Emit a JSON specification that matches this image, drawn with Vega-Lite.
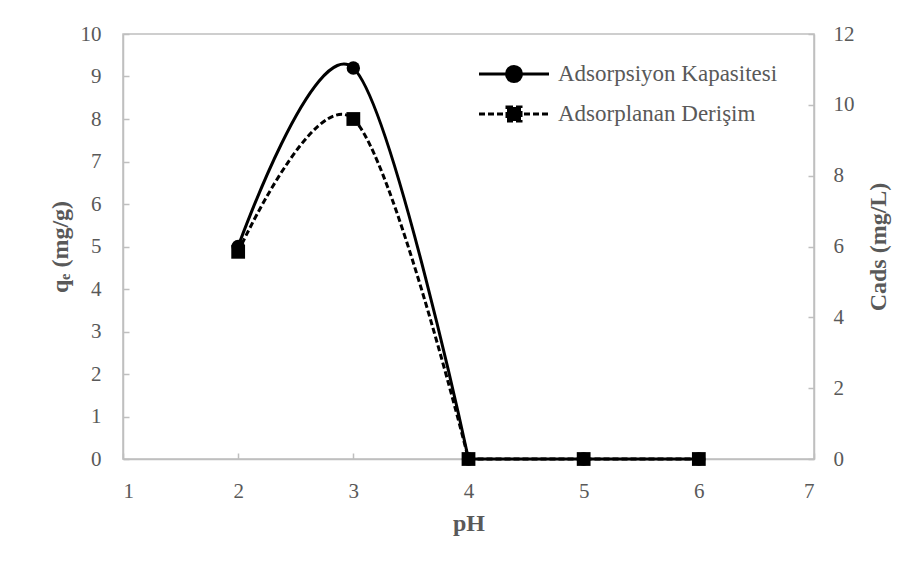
{
  "$schema": "https://vega.github.io/schema/vega-lite/v6.json",
  "width": 691,
  "height": 425,
  "padding": {"left": 48, "top": 23, "right": 5, "bottom": 5},
  "autosize": {"type": "pad"},
  "background": "white",
  "data": {
    "values": [
      {"series": "Adsorpsiyon Kapasitesi", "pH": 2, "value": 5.0},
      {"series": "Adsorpsiyon Kapasitesi", "pH": 3, "value": 9.2},
      {"series": "Adsorpsiyon Kapasitesi", "pH": 4, "value": 0},
      {"series": "Adsorpsiyon Kapasitesi", "pH": 5, "value": 0},
      {"series": "Adsorpsiyon Kapasitesi", "pH": 6, "value": 0},
      {"series": "Adsorplanan Derişim", "pH": 2, "value": 5.85},
      {"series": "Adsorplanan Derişim", "pH": 3, "value": 9.6},
      {"series": "Adsorplanan Derişim", "pH": 4, "value": 0},
      {"series": "Adsorplanan Derişim", "pH": 5, "value": 0},
      {"series": "Adsorplanan Derişim", "pH": 6, "value": 0}
    ]
  },
  "encoding": {
    "x": {
      "field": "pH",
      "type": "quantitative",
      "scale": {"domain": [1, 7], "nice": false, "zero": false},
      "axis": {"values": [1, 2, 3, 4, 5, 6, 7], "title": "pH", "titlePadding": 10, "labelPadding": 27}
    },
    "color": {
      "field": "series",
      "type": "nominal",
      "scale": {"domain": ["Adsorpsiyon Kapasitesi", "Adsorplanan Derişim"], "range": ["#000000", "#000000"]},
      "legend": {
        "title": null,
        "orient": "none",
        "direction": "vertical",
        "legendX": 372,
        "legendY": 21,
        "padding": 0,
        "symbolSize": 1225,
        "rowPadding": 7,
        "labelOffset": 25,
        "labelLimit": 400,
        "encode": {
          "symbols": {
            "update": {
              "shape": {"signal": "datum.value === 'Adsorpsiyon Kapasitesi' ? 'M-2,0H2M-0.43,0A0.43,0.43,0,1,1,0.43,0A0.43,0.43,0,1,1,-0.43,0Z' : 'M-2,0H2M-0.4,-0.4H0.4V0.4H-0.4Z'"},
              "strokeDash": {"signal": "datum.value === 'Adsorpsiyon Kapasitesi' ? [] : [6, 3]"},
              "fill": {"value": "#000000"},
              "stroke": {"value": "#000000"},
              "strokeWidth": {"value": 3},
              "opacity": {"value": 1},
              "size": {"value": 1225}
            }
          }
        }
      }
    }
  },
  "layer": [
    {
      "transform": [{"filter": "datum.series === 'Adsorpsiyon Kapasitesi'"}],
      "encoding": {
        "y": {
          "field": "value",
          "type": "quantitative",
          "scale": {"domain": [0, 10], "nice": false},
          "axis": {"orient": "left", "title": "qₑ (mg/g)", "values": [0, 1, 2, 3, 4, 5, 6, 7, 8, 9, 10], "titlePadding": 8, "labelPadding": 28}
        }
      },
      "layer": [
        {"transform": [{"filter": "datum.pH <= 4"}], "mark": {"type": "line", "interpolate": "cardinal", "strokeWidth": 3}},
        {"transform": [{"filter": "datum.pH >= 4"}], "mark": {"type": "line", "strokeWidth": 3}},
        {"mark": {"type": "point", "shape": "circle", "filled": true, "size": 180, "opacity": 1}}
      ]
    },
    {
      "transform": [{"filter": "datum.series === 'Adsorplanan Derişim'"}],
      "encoding": {
        "y": {
          "field": "value",
          "type": "quantitative",
          "scale": {"domain": [0, 12], "nice": false},
          "axis": {"orient": "right", "title": "Cads (mg/L)", "titleAngle": 270, "values": [0, 2, 4, 6, 8, 10, 12], "titlePadding": 36, "labelPadding": 25}
        }
      },
      "layer": [
        {"transform": [{"filter": "datum.pH <= 4"}], "mark": {"type": "line", "interpolate": "cardinal", "strokeWidth": 3, "strokeDash": [6, 3]}},
        {"transform": [{"filter": "datum.pH >= 4"}], "mark": {"type": "line", "strokeWidth": 3, "strokeDash": [6, 3]}},
        {"mark": {"type": "point", "shape": "square", "filled": true, "size": 190, "opacity": 1}}
      ]
    }
  ],
  "resolve": {"scale": {"y": "independent"}},
  "config": {
    "font": "Liberation Serif, Times New Roman, serif",
    "view": {"stroke": "#BFBFBF", "strokeWidth": 1.5},
    "legend": {"labelFont": "Liberation Serif, Times New Roman, serif", "labelFontSize": 23, "labelColor": "#595959"},
    "axis": {
      "grid": false,
      "domainColor": "#BFBFBF",
      "domainWidth": 1.5,
      "tickColor": "#BFBFBF",
      "tickWidth": 1.5,
      "tickSize": -6,
      "labelFont": "Liberation Serif, Times New Roman, serif",
      "labelFontSize": 21,
      "labelColor": "#595959",
      "titleFont": "Liberation Serif, Times New Roman, serif",
      "titleFontSize": 24,
      "titleFontWeight": "bold",
      "titleColor": "#595959"
    }
  }
}
